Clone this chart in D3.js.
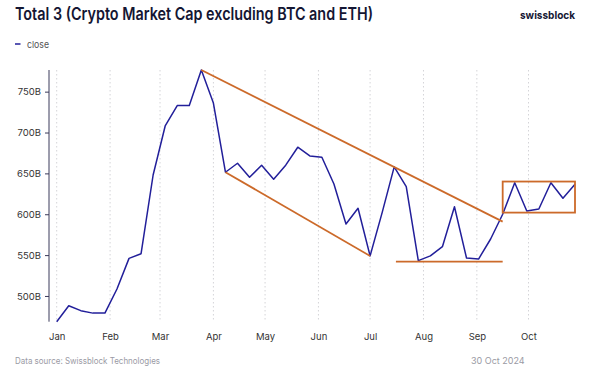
<!DOCTYPE html>
<html>
<head>
<meta charset="utf-8">
<script src="https://cdn.jsdelivr.net/npm/d3@7"></script>
<style>
  html, body { margin: 0; padding: 0; background: #fff; }
  svg { display: block; font-family: Inter, "Liberation Sans", sans-serif; }
</style>
</head>
<body>
<div id="chart"></div>
<script>
// weekly closes, 2024 (billions USD)
const dates = [
  "2024-01-01","2024-01-08","2024-01-15","2024-01-22","2024-01-29","2024-02-05","2024-02-12","2024-02-19",
  "2024-02-26","2024-03-04","2024-03-11","2024-03-18","2024-03-25","2024-04-01","2024-04-08","2024-04-15",
  "2024-04-22","2024-04-29","2024-05-06","2024-05-13","2024-05-20","2024-05-27","2024-06-03","2024-06-10",
  "2024-06-17","2024-06-24","2024-07-01","2024-07-08","2024-07-15","2024-07-22","2024-07-29","2024-08-05",
  "2024-08-12","2024-08-19","2024-08-26","2024-09-02","2024-09-09","2024-09-16","2024-09-23","2024-09-30",
  "2024-10-07","2024-10-14","2024-10-21","2024-10-28"
];
const closeValues = [
  468.5, 488, 482, 479, 479, 508.5, 546, 551.7,
  648, 708, 733, 733, 776.5, 736, 651.4, 662.4,
  645.2, 660, 642.8, 660, 682, 671.3, 669.7, 637,
  588, 607.3, 549, 602, 658, 633.7, 543.2, 549,
  560.3, 609.2, 546.4, 545.2, 569.7, 600, 638.6, 604,
  606.4, 638.6, 619.5, 636.7
];
const yTicks = [500, 550, 600, 650, 700, 750];
const monthLabels = ["Jan","Feb","Mar","Apr","May","Jun","Jul","Aug","Sep","Oct"];

// annotation shapes: [date, value]
const upperTrend = [["2024-03-25", 776.5], ["2024-09-16", 591]];
const lowerTrend = [["2024-04-08", 651.4], ["2024-07-01", 549]];
const supportLine = [["2024-07-16", 542], ["2024-09-16", 542]];
const rangeBox = [["2024-09-16", 640], ["2024-10-28", 602]];

const W = 600, H = 385;
const parse = d3.utcParse("%Y-%m-%d");
const data = dates.map((d, i) => ({ date: parse(d), value: closeValues[i] }));

const svg = d3.select("#chart").append("svg").attr("width", W).attr("height", H);

const x = d3.scaleUtc()
  .domain(d3.extent(data, d => d.date))
  .range([56.7, 575]);
const y = d3.scaleLinear()
  .domain(d3.extent(data, d => d.value))
  .range([321.7, 70]);

// title + brand
svg.append("text").attr("x", 15).attr("y", 20)
  .attr("font-size", 17).attr("font-weight", 600).attr("fill", "#141633")
  .attr("textLength", 358).attr("lengthAdjust", "spacingAndGlyphs")
  .text("Total 3 (Crypto Market Cap excluding BTC and ETH)");
svg.append("text").attr("x", 520).attr("y", 19)
  .attr("font-size", 11).attr("font-weight", 700).attr("fill", "#141633")
  .attr("textLength", 55).attr("lengthAdjust", "spacingAndGlyphs")
  .text("swissblock");

// legend
svg.append("line").attr("x1", 15).attr("x2", 20.5).attr("y1", 44).attr("y2", 44)
  .attr("stroke", "#221f9a").attr("stroke-width", 1.5);
svg.append("text").attr("x", 27).attr("y", 47.5)
  .attr("font-size", 9.5).attr("fill", "#555")
  .attr("textLength", 22).attr("lengthAdjust", "spacingAndGlyphs").text("close");

// month gridlines
const months = d3.utcMonth.range(parse("2024-01-01"), parse("2024-10-29"));
svg.append("g").selectAll("line").data(months).join("line")
  .attr("x1", d => x(d)).attr("x2", d => x(d))
  .attr("y1", 70).attr("y2", 321.7)
  .attr("stroke", "#d4d4d8").attr("stroke-width", 1).attr("stroke-dasharray", "1.5,2.5");

// x axis labels
const xAxis = svg.append("g").attr("transform", "translate(0,322)")
  .call(d3.axisBottom(x).tickValues(months).tickSize(0).tickPadding(11)
    .tickFormat((d, i) => monthLabels[i]));
xAxis.select(".domain").remove();
xAxis.selectAll("text").attr("font-size", 9.5).attr("fill", "#333")
  .attr("font-family", "Inter, sans-serif");

// y axis
const yAxis = svg.append("g").attr("transform", "translate(49,0)")
  .call(d3.axisLeft(y).tickValues(yTicks).tickSize(4).tickPadding(4)
    .tickFormat(d => d + "B"));
yAxis.select(".domain").attr("stroke", "#3a3a5a").attr("d", "M0,70V321.7");
yAxis.selectAll(".tick line").attr("stroke", "#3a3a5a");
yAxis.selectAll("text").attr("font-size", 9.5).attr("fill", "#333")
  .attr("font-family", "Inter, sans-serif");

// price line
svg.append("path").datum(data)
  .attr("fill", "none").attr("stroke", "#221f9a").attr("stroke-width", 1.5)
  .attr("stroke-linejoin", "round")
  .attr("d", d3.line().x(d => x(d.date)).y(d => y(d.value)));

// annotations
const orange = "#cc6a2a";
const seg = d3.line().x(d => x(parse(d[0]))).y(d => y(d[1]));
[upperTrend, lowerTrend, supportLine].forEach(s => {
  svg.append("path").attr("d", seg(s))
    .attr("fill", "none").attr("stroke", orange).attr("stroke-width", 1.8);
});
svg.append("rect")
  .attr("x", x(parse(rangeBox[0][0])))
  .attr("y", y(rangeBox[0][1]))
  .attr("width", x(parse(rangeBox[1][0])) - x(parse(rangeBox[0][0])))
  .attr("height", y(rangeBox[1][1]) - y(rangeBox[0][1]))
  .attr("fill", "none").attr("stroke", orange).attr("stroke-width", 1.8);

// footer
svg.append("text").attr("x", 15).attr("y", 364)
  .attr("font-size", 9).attr("fill", "#9a9aa4")
  .attr("textLength", 145).attr("lengthAdjust", "spacingAndGlyphs")
  .text("Data source: Swissblock Technologies");
svg.append("text").attr("x", 471).attr("y", 364)
  .attr("font-size", 9).attr("fill", "#9a9aa4")
  .text("30 Oct 2024");
</script>
</body>
</html>
